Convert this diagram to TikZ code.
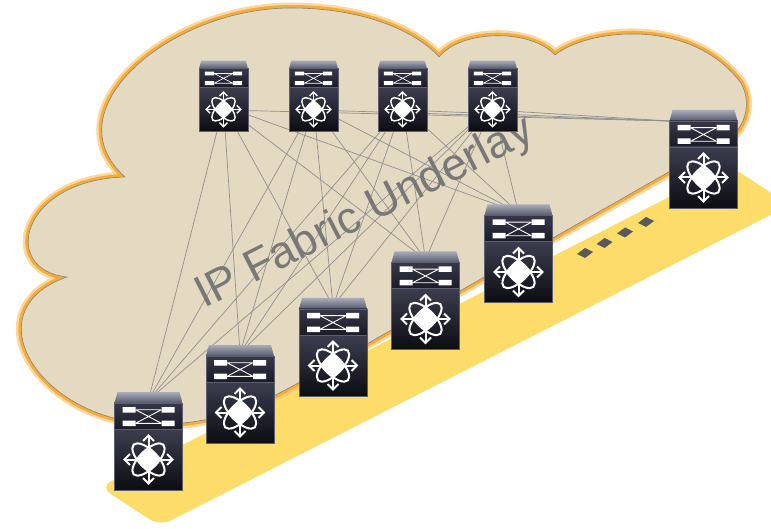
\documentclass[tikz,border=0pt]{standalone}
\usepackage{fontspec}
\setmainfont{Liberation Sans}
\usetikzlibrary{calc}

\definecolor{cloudfill}{RGB}{228,217,193}
\definecolor{cloudline}{RGB}{138,130,116}
\definecolor{glow}{RGB}{246,172,56}
\definecolor{glowsoft}{RGB}{250,200,120}
\definecolor{bandyellow}{RGB}{253,220,106}
\definecolor{linkgray}{RGB}{145,145,145}
\definecolor{labelgray}{RGB}{120,120,120}
\definecolor{dotgray}{RGB}{88,88,94}
\definecolor{capTop}{RGB}{168,171,185}
\definecolor{capBot}{RGB}{86,89,106}
\definecolor{upTop}{RGB}{54,56,74}
\definecolor{upBot}{RGB}{26,27,38}
\definecolor{loTop}{RGB}{60,62,80}
\definecolor{loMid}{RGB}{22,22,32}
\definecolor{loBot}{RGB}{12,12,18}
\definecolor{swrim}{RGB}{92,95,112}

% Draws a Nexus-style switch inside the (invisible) node #1, scaled by #2
\newcommand\drawswitch[2]{%
  \pgfmathsetmacro\swlw{#2*2.0}%
  \pgfmathsetmacro\swthin{#2*0.9}%
  \begin{scope}[shift={(#1.north west)}, x=#2pt, y=-#2pt]
    \shade[top color=capTop, bottom color=capBot] (3,0) -- (65,0) -- (68,11) -- (0,11) -- cycle;
    \shade[top color=upTop, bottom color=upBot] (0,11) rectangle (68,37);
    \shade[top color=loTop, middle color=loMid, bottom color=loBot] (0,37) rectangle (68,98);
    \draw[swrim, line width=0.6pt] (0,37) -- (68,37);
    \draw[swrim, line width=0.6pt] (0,11) rectangle (68,98);
    % port glyph
    \fill[white] (8,15) rectangle (21,20.5) (8,28.5) rectangle (21,34)
                 (47,15) rectangle (60,20.5) (47,28.5) rectangle (60,34);
    \draw[white, line width=\swthin pt] (21,17.7) -- (47,17.7) (21,17.7) -- (47,31.3)
         (21,31.3) -- (47,17.7) (21,31.3) -- (47,31.3);
    % fabric glyph
    \begin{scope}[shift={(34,67.5)}]
      \draw[white, line width=\swlw pt]
        (0,0) ellipse [x radius=21, y radius=9, rotate=45]
        (0,0) ellipse [x radius=21, y radius=9, rotate=-45];
      \draw[white, line width=\swlw pt] (0,-24) -- (0,24) (-24,0) -- (24,0);
      \draw[white, line width=\swlw pt]
        (-5.5,-18.5) -- (0,-24) -- (5.5,-18.5) (-5.5,18.5) -- (0,24) -- (5.5,18.5)
        (-18.5,-5.5) -- (-24,0) -- (-18.5,5.5) (18.5,-5.5) -- (24,0) -- (18.5,5.5);
      \fill[white] (0,-12) -- (12,0) -- (0,12) -- (-12,0) -- cycle;
    \end{scope}
  \end{scope}}

\begin{document}
\begin{tikzpicture}[x=1pt, y=-1pt,
  swnode/.style={inner sep=0pt, outer sep=0pt, minimum width=#1*68pt, minimum height=#1*98pt},
  link/.style={draw=linkgray, line width=0.7pt},
  fabriclabel/.style={text=labelgray, font=\fontsize{45}{45}\selectfont},
  dotmark/.style={fill=dotgray}]
\useasboundingbox (0,0) rectangle (771,529);

% yellow floor band
\fill[bandyellow, rounded corners=12pt] (100,487) -- (160,526) -- (790,205) -- (730,166) -- cycle;

% cloud outline path
\def\cloudpath{(160,424) .. controls (40,424) and (-30,310) .. (67,277)
  .. controls (0,270) and (20,180) .. (125,177)
  .. controls (50,110) and (170,8) .. (291,8)
  .. controls (370,8) and (420,35) .. (439,57)
  .. controls (460,30) and (530,28) .. (555,55)
  .. controls (585,30) and (690,15) .. (741,83)
  .. controls (752,103) and (745,125) .. (732,136)
  -- (300,382)
  .. controls (250,410) and (210,424) .. (160,424) -- cycle}
\draw[glowsoft, line width=11pt, line join=round, opacity=0.7] \cloudpath;
\draw[glow, line width=6pt, line join=round] \cloudpath;
\filldraw[fill=cloudfill, draw=cloudline, line width=0.6pt] \cloudpath;

% continuation dots on the band
\foreach \cx/\cy in {585/253, 604.5/243, 625/232.5, 646/222}
  \fill[dotmark] (\cx-8,\cy+1) -- (\cx,\cy-5) -- (\cx+8,\cy-1) -- (\cx,\cy+5) -- cycle;

% switch placeholders
\node[swnode=0.72] (S1) at (223.5,96) {};
\node[swnode=0.72] (S2) at (313.5,96) {};
\node[swnode=0.72] (S3) at (402.5,96) {};
\node[swnode=0.72] (S4) at (492.5,96) {};
\node[swnode=1] (L1) at (148.5,441) {};
\node[swnode=1] (L2) at (240,394) {};
\node[swnode=1] (L3) at (333,347) {};
\node[swnode=1] (L4) at (425.5,300.5) {};
\node[swnode=1] (L5) at (518.5,253.5) {};
\node[swnode=1] (R) at (703.5,159) {};

% fabric links
\foreach \s in {S1,S2,S3,S4}{
  \foreach \l in {L1,L2,L3,L4,L5}
    \draw[link] ([yshift=-10pt]\s.center) -- ([yshift=-8pt]\l.north);
  \draw[link] ([yshift=-14pt]\s.center) -- ([yshift=38pt]R.west);
}

% label
\node[fabriclabel, rotate=27, anchor=base west, inner sep=0pt] (lbl) at (204,309) {IP Fabric Underlay};

% switches
\foreach \n/\k in {S1/0.72,S2/0.72,S3/0.72,S4/0.72,R/1,L5/1,L4/1,L3/1,L2/1,L1/1}
  \drawswitch{\n}{\k};
\end{tikzpicture}
\end{document}
